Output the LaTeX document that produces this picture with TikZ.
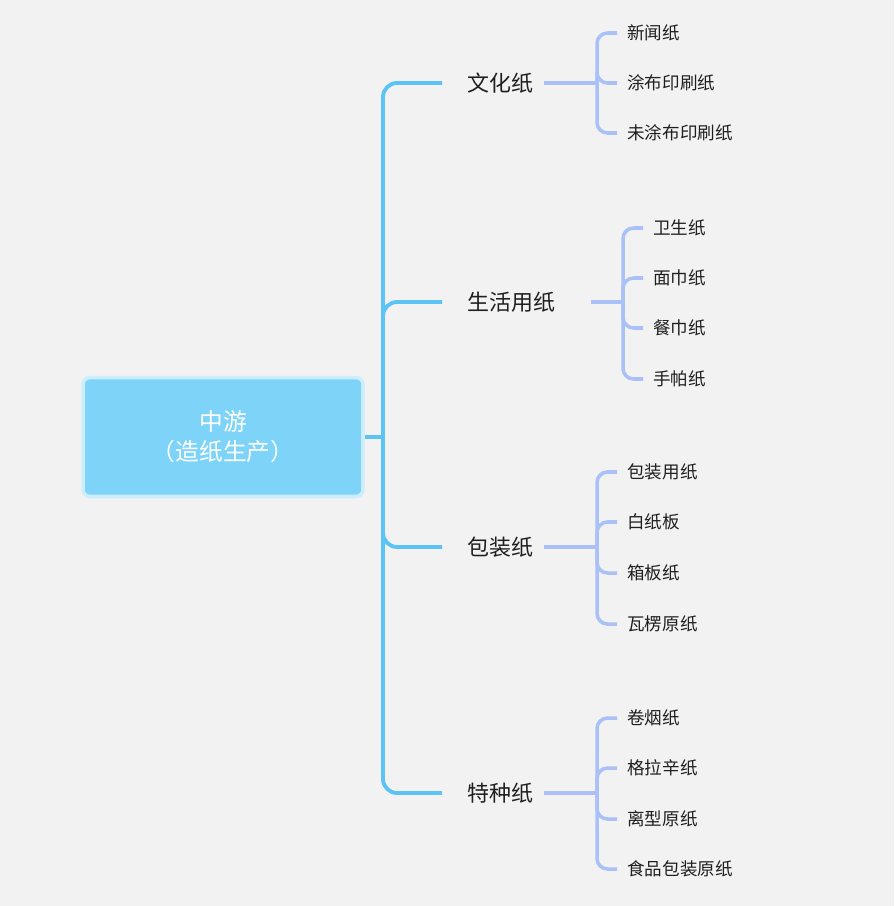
\documentclass[tikz,border=0pt]{standalone}
\usepackage{fontspec}
\setmainfont{Noto Sans CJK SC}
\usetikzlibrary{positioning}
\definecolor{bgcol}{HTML}{F2F2F2}
\definecolor{rootcol}{HTML}{7DD3F8}
\definecolor{trunkcol}{HTML}{5BC4F5}
\definecolor{leafcol}{HTML}{A9C1F6}
\definecolor{txtcol}{HTML}{1F1F1F}
\tikzset{
    root/.style = {rectangle, rounded corners=4pt, minimum width=5.6cm, minimum height=2.38cm, fill=rootcol, draw=rootcol!40, line width=2pt, text=white, align=center, font=\fontsize{13.5}{17}\selectfont},
    topic/.style = {anchor=west, inner sep=0pt, text=txtcol, font=\fontsize{12.5}{15}\selectfont},
    leaf/.style = {anchor=west, inner sep=0pt, text=txtcol, font=\fontsize{10}{12}\selectfont},
    trunk/.style = {trunkcol, line width=2.2pt, rounded corners=8pt},
    twig/.style = {leafcol, line width=2pt, rounded corners=6pt}
}
\begin{document}
\begin{tikzpicture}[x=0.02cm, y=-0.02cm]
\fill [bgcol] (0,0) rectangle (894,906);
\node (mid) [root] at (223,437) {中游\\（造纸生产）};

\node (wh) [topic] at (467,83) {文化纸};
\node (sh) [topic] at (467,302) {生活用纸};
\node (bz) [topic] at (467,547) {包装纸};
\node (tz) [topic] at (467,793) {特种纸};

% trunk
\coordinate (hub) at (383,437);
\draw [trunk] (mid.east) -- (hub);
\foreach \t in {wh,sh,bz,tz}
    \draw [trunk] (hub) |- ([xshift=-0.5cm]\t.west);

% leaves
\foreach \name/\y/\txt in {a1/33/新闻纸, a2/83/涂布印刷纸, a3/133/未涂布印刷纸,
    c1/472/包装用纸, c2/522/白纸板, c3/573/箱板纸, c4/624/瓦楞原纸,
    d1/718/卷烟纸, d2/768/格拉辛纸, d3/819/离型原纸, d4/869/食品包装原纸}
    \node (\name) [leaf] at (627,\y) {\txt};
\foreach \name/\y/\txt in {b1/228/卫生纸, b2/278/面巾纸, b3/328/餐巾纸, b4/379/手帕纸}
    \node (\name) [leaf] at (653,\y) {\txt};

\coordinate (wa) at (597,83);
\coordinate (sa) at (623,302);
\coordinate (ba) at (597,547);
\coordinate (ta) at (597,793);
\draw [twig] ([xshift=0.2cm]wh.east) -- (wa);
\draw [twig] ([xshift=0.7cm]sh.east) -- (sa);
\draw [twig] ([xshift=0.2cm]bz.east) -- (ba);
\draw [twig] ([xshift=0.2cm]tz.east) -- (ta);
\foreach \l in {a1,a2,a3} \draw [twig] (wa) |- ([xshift=-0.2cm]\l.west);
\foreach \l in {b1,b2,b3,b4} \draw [twig] (sa) |- ([xshift=-0.2cm]\l.west);
\foreach \l in {c1,c2,c3,c4} \draw [twig] (ba) |- ([xshift=-0.2cm]\l.west);
\foreach \l in {d1,d2,d3,d4} \draw [twig] (ta) |- ([xshift=-0.2cm]\l.west);
\end{tikzpicture}
\end{document}
